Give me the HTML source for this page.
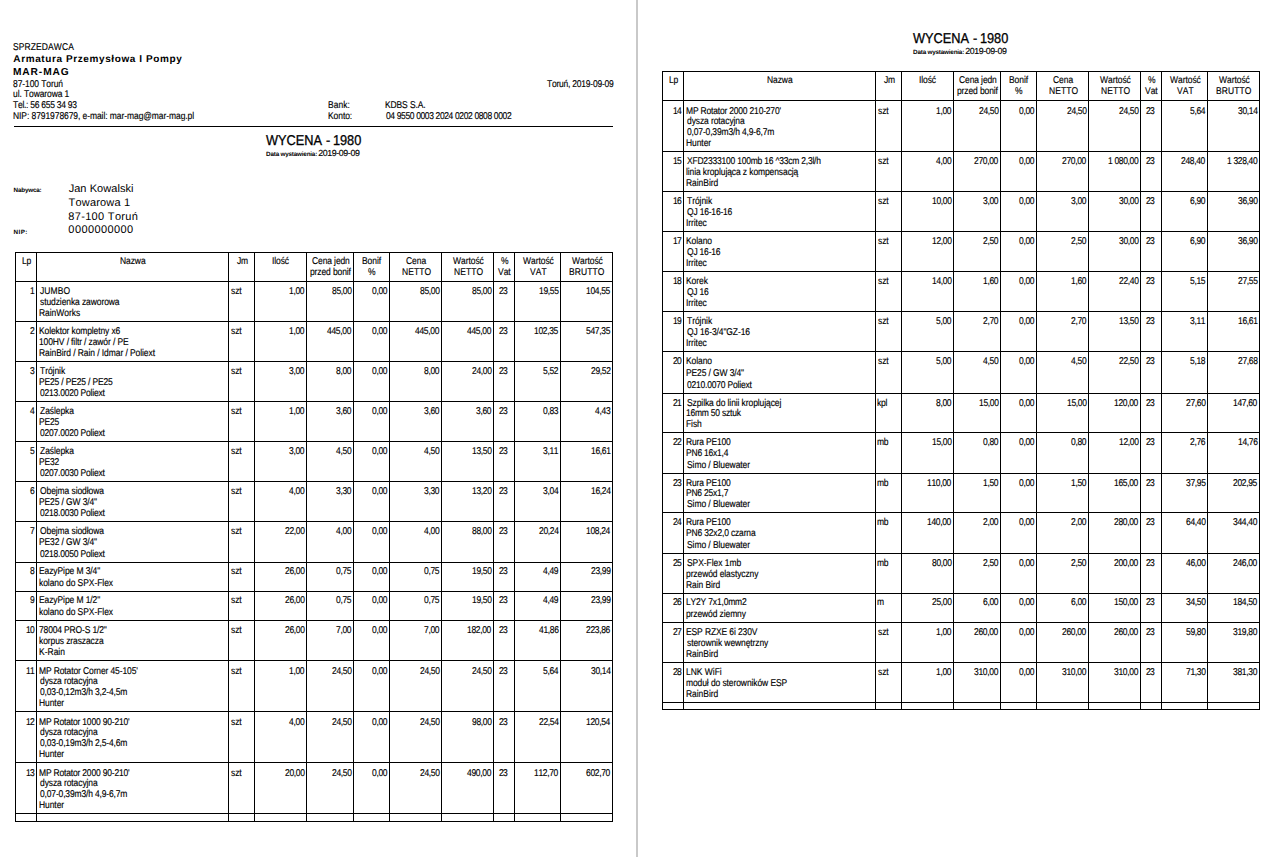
<!DOCTYPE html><html><head><meta charset="utf-8"><style>
html,body{margin:0;padding:0;background:#fff;width:1279px;height:857px;overflow:hidden;position:relative}
.t{position:absolute;white-space:pre;transform-origin:0 0;font-family:"Liberation Sans",sans-serif;font-kerning:none;text-rendering:geometricPrecision;line-height:20px;height:20px;color:#000}
.l{position:absolute;background:#000}
</style></head><body>
<div class="l" style="left:636px;top:0px;width:2px;height:857px;background:#c9c9c9;"></div>
<div class="l" style="left:14px;top:126px;width:599px;height:1px;"></div>
<div class="l" style="left:15px;top:252px;width:598px;height:1px;"></div>
<div class="l" style="left:15px;top:281px;width:598px;height:1px;"></div>
<div class="l" style="left:15px;top:321px;width:598px;height:1px;"></div>
<div class="l" style="left:15px;top:361px;width:598px;height:1px;"></div>
<div class="l" style="left:15px;top:401px;width:598px;height:1px;"></div>
<div class="l" style="left:15px;top:441px;width:598px;height:1px;"></div>
<div class="l" style="left:15px;top:481px;width:598px;height:1px;"></div>
<div class="l" style="left:15px;top:521px;width:598px;height:1px;"></div>
<div class="l" style="left:15px;top:562px;width:598px;height:1px;"></div>
<div class="l" style="left:15px;top:591px;width:598px;height:1px;"></div>
<div class="l" style="left:15px;top:620px;width:598px;height:1px;"></div>
<div class="l" style="left:15px;top:660px;width:598px;height:1px;"></div>
<div class="l" style="left:15px;top:711px;width:598px;height:1px;"></div>
<div class="l" style="left:15px;top:762px;width:598px;height:1px;"></div>
<div class="l" style="left:15px;top:813px;width:598px;height:1px;"></div>
<div class="l" style="left:15px;top:821px;width:598px;height:1px;"></div>
<div class="l" style="left:15px;top:252px;width:1px;height:570px;"></div>
<div class="l" style="left:36px;top:252px;width:1px;height:570px;"></div>
<div class="l" style="left:228px;top:252px;width:1px;height:570px;"></div>
<div class="l" style="left:254px;top:252px;width:1px;height:570px;"></div>
<div class="l" style="left:306px;top:252px;width:1px;height:570px;"></div>
<div class="l" style="left:353px;top:252px;width:1px;height:570px;"></div>
<div class="l" style="left:389px;top:252px;width:1px;height:570px;"></div>
<div class="l" style="left:441px;top:252px;width:1px;height:570px;"></div>
<div class="l" style="left:493px;top:252px;width:1px;height:570px;"></div>
<div class="l" style="left:514px;top:252px;width:1px;height:570px;"></div>
<div class="l" style="left:560px;top:252px;width:1px;height:570px;"></div>
<div class="l" style="left:612px;top:252px;width:1px;height:570px;"></div>
<div class="l" style="left:662px;top:71px;width:598px;height:1px;"></div>
<div class="l" style="left:662px;top:100px;width:598px;height:1px;"></div>
<div class="l" style="left:662px;top:151px;width:598px;height:1px;"></div>
<div class="l" style="left:662px;top:191px;width:598px;height:1px;"></div>
<div class="l" style="left:662px;top:231px;width:598px;height:1px;"></div>
<div class="l" style="left:662px;top:271px;width:598px;height:1px;"></div>
<div class="l" style="left:662px;top:311px;width:598px;height:1px;"></div>
<div class="l" style="left:662px;top:351px;width:598px;height:1px;"></div>
<div class="l" style="left:662px;top:393px;width:598px;height:1px;"></div>
<div class="l" style="left:662px;top:432px;width:598px;height:1px;"></div>
<div class="l" style="left:662px;top:473px;width:598px;height:1px;"></div>
<div class="l" style="left:662px;top:512px;width:598px;height:1px;"></div>
<div class="l" style="left:662px;top:553px;width:598px;height:1px;"></div>
<div class="l" style="left:662px;top:593px;width:598px;height:1px;"></div>
<div class="l" style="left:662px;top:622px;width:598px;height:1px;"></div>
<div class="l" style="left:662px;top:662px;width:598px;height:1px;"></div>
<div class="l" style="left:662px;top:702px;width:598px;height:1px;"></div>
<div class="l" style="left:662px;top:709px;width:598px;height:1px;"></div>
<div class="l" style="left:662px;top:71px;width:1px;height:639px;"></div>
<div class="l" style="left:683px;top:71px;width:1px;height:639px;"></div>
<div class="l" style="left:875px;top:71px;width:1px;height:639px;"></div>
<div class="l" style="left:901px;top:71px;width:1px;height:639px;"></div>
<div class="l" style="left:953px;top:71px;width:1px;height:639px;"></div>
<div class="l" style="left:1000px;top:71px;width:1px;height:639px;"></div>
<div class="l" style="left:1036px;top:71px;width:1px;height:639px;"></div>
<div class="l" style="left:1088px;top:71px;width:1px;height:639px;"></div>
<div class="l" style="left:1140px;top:71px;width:1px;height:639px;"></div>
<div class="l" style="left:1161px;top:71px;width:1px;height:639px;"></div>
<div class="l" style="left:1207px;top:71px;width:1px;height:639px;"></div>
<div class="l" style="left:1259px;top:71px;width:1px;height:639px;"></div>
<div class="t" style="left:13.21px;top:38px;font-size:9.9px;letter-spacing:0.120px;-webkit-text-stroke:0.15px #000;transform:scaleX(0.86);">SPRZEDAWCA</div>
<div class="t" style="left:13.35px;top:50px;font-size:10.0px;letter-spacing:0.601px;font-weight:bold;">Armatura Przemysłowa I Pompy</div>
<div class="t" style="left:12.92px;top:63px;font-size:10.2px;letter-spacing:0.915px;font-weight:bold;">MAR-MAG</div>
<div class="t" style="left:13.23px;top:75px;font-size:9.9px;letter-spacing:-0.096px;-webkit-text-stroke:0.15px #000;transform:scaleX(0.86);">87-100 Toruń</div>
<div class="t" style="left:13.05px;top:85px;font-size:9.9px;letter-spacing:-0.113px;-webkit-text-stroke:0.15px #000;transform:scaleX(0.86);">ul. Towarowa 1</div>
<div class="t" style="left:13.41px;top:96px;font-size:9.9px;letter-spacing:-0.306px;-webkit-text-stroke:0.15px #000;transform:scaleX(0.86);">Tel.: 56 655 34 93</div>
<div class="t" style="left:12.90px;top:107px;font-size:9.9px;letter-spacing:-0.086px;-webkit-text-stroke:0.15px #000;transform:scaleX(0.86);">NIP: 8791978679, e-mail: mar-mag@mar-mag.pl</div>
<div class="t" style="left:547.31px;top:75px;font-size:9.9px;letter-spacing:-0.256px;-webkit-text-stroke:0.15px #000;transform:scaleX(0.86);">Toruń, 2019-09-09</div>
<div class="t" style="left:327.80px;top:96px;font-size:9.9px;letter-spacing:0.030px;-webkit-text-stroke:0.15px #000;transform:scaleX(0.86);">Bank:</div>
<div class="t" style="left:385.30px;top:96px;font-size:9.9px;letter-spacing:-0.140px;-webkit-text-stroke:0.15px #000;transform:scaleX(0.86);">KDBS S.A.</div>
<div class="t" style="left:327.80px;top:107px;font-size:9.9px;letter-spacing:-0.079px;-webkit-text-stroke:0.15px #000;transform:scaleX(0.86);">Konto:</div>
<div class="t" style="left:385.67px;top:107px;font-size:9.9px;letter-spacing:-0.426px;-webkit-text-stroke:0.15px #000;transform:scaleX(0.86);">04 9550 0003 2024 0202 0808 0002</div>
<div class="t" style="left:266.01px;top:131px;font-size:14.2px;letter-spacing:-0.025px;-webkit-text-stroke:0.3px #000;transform:scaleX(0.9);">WYCENA</div>
<div class="t" style="left:325.63px;top:131px;font-size:14.2px;letter-spacing:0.000px;-webkit-text-stroke:0.3px #000;transform:scaleX(0.9);">-</div>
<div class="t" style="left:333.03px;top:131px;font-size:14.2px;letter-spacing:-0.058px;-webkit-text-stroke:0.3px #000;transform:scaleX(0.9);">1980</div>
<div class="t" style="left:266.08px;top:145px;font-size:6.3px;letter-spacing:-0.190px;font-weight:bold;">Data wystawienia:</div>
<div class="t" style="left:318.16px;top:143px;font-size:8.8px;letter-spacing:-0.373px;-webkit-text-stroke:0.15px #000;">2019-09-09</div>
<div class="t" style="left:913.01px;top:29px;font-size:14.2px;letter-spacing:-0.025px;-webkit-text-stroke:0.3px #000;transform:scaleX(0.9);">WYCENA</div>
<div class="t" style="left:972.63px;top:29px;font-size:14.2px;letter-spacing:0.000px;-webkit-text-stroke:0.3px #000;transform:scaleX(0.9);">-</div>
<div class="t" style="left:980.03px;top:29px;font-size:14.2px;letter-spacing:-0.058px;-webkit-text-stroke:0.3px #000;transform:scaleX(0.9);">1980</div>
<div class="t" style="left:913.08px;top:43px;font-size:6.3px;letter-spacing:-0.190px;font-weight:bold;">Data wystawienia:</div>
<div class="t" style="left:965.16px;top:41px;font-size:8.8px;letter-spacing:-0.373px;-webkit-text-stroke:0.15px #000;">2019-09-09</div>
<div class="t" style="left:13.58px;top:181px;font-size:6.3px;letter-spacing:-0.198px;font-weight:bold;">Nabywca:</div>
<div class="t" style="left:13.58px;top:223px;font-size:6.3px;letter-spacing:0.409px;font-weight:bold;">NIP:</div>
<div class="t" style="left:68.63px;top:179px;font-size:11.0px;letter-spacing:0.065px;">Jan Kowalski</div>
<div class="t" style="left:68.55px;top:193px;font-size:11.0px;letter-spacing:0.186px;">Towarowa 1</div>
<div class="t" style="left:68.32px;top:207px;font-size:11.0px;letter-spacing:0.321px;">87-100 Toruń</div>
<div class="t" style="left:68.37px;top:220px;font-size:11.0px;letter-spacing:0.409px;">0000000000</div>
<div class="t" style="left:21.98px;top:252px;font-size:9.9px;letter-spacing:-0.198px;-webkit-text-stroke:0.15px #000;transform:scaleX(0.86);">Lp</div>
<div class="t" style="left:120.11px;top:252px;font-size:9.9px;letter-spacing:-0.097px;-webkit-text-stroke:0.15px #000;transform:scaleX(0.86);">Nazwa</div>
<div class="t" style="left:236.92px;top:252px;font-size:9.9px;letter-spacing:-0.183px;-webkit-text-stroke:0.15px #000;transform:scaleX(0.86);">Jm</div>
<div class="t" style="left:272.45px;top:252px;font-size:9.9px;letter-spacing:-0.108px;-webkit-text-stroke:0.15px #000;transform:scaleX(0.86);">Ilość</div>
<div class="t" style="left:311.90px;top:252px;font-size:9.9px;letter-spacing:-0.130px;-webkit-text-stroke:0.15px #000;transform:scaleX(0.86);">Cena jedn</div>
<div class="t" style="left:309.99px;top:263px;font-size:9.9px;letter-spacing:-0.125px;-webkit-text-stroke:0.15px #000;transform:scaleX(0.86);">przed bonif</div>
<div class="t" style="left:362.36px;top:252px;font-size:9.9px;letter-spacing:-0.070px;-webkit-text-stroke:0.15px #000;transform:scaleX(0.86);">Bonif</div>
<div class="t" style="left:368.30px;top:263px;font-size:9.9px;letter-spacing:0.000px;-webkit-text-stroke:0.15px #000;transform:scaleX(0.86);">%</div>
<div class="t" style="left:406.01px;top:252px;font-size:9.9px;letter-spacing:-0.077px;-webkit-text-stroke:0.15px #000;transform:scaleX(0.86);">Cena</div>
<div class="t" style="left:401.58px;top:263px;font-size:9.9px;letter-spacing:0.087px;-webkit-text-stroke:0.15px #000;transform:scaleX(0.86);">NETTO</div>
<div class="t" style="left:452.93px;top:252px;font-size:9.9px;letter-spacing:-0.055px;-webkit-text-stroke:0.15px #000;transform:scaleX(0.86);">Wartość</div>
<div class="t" style="left:453.58px;top:263px;font-size:9.9px;letter-spacing:0.087px;-webkit-text-stroke:0.15px #000;transform:scaleX(0.86);">NETTO</div>
<div class="t" style="left:500.80px;top:252px;font-size:9.9px;letter-spacing:0.000px;-webkit-text-stroke:0.15px #000;transform:scaleX(0.86);">%</div>
<div class="t" style="left:498.44px;top:263px;font-size:9.9px;letter-spacing:-0.022px;-webkit-text-stroke:0.15px #000;transform:scaleX(0.86);">Vat</div>
<div class="t" style="left:522.93px;top:252px;font-size:9.9px;letter-spacing:-0.055px;-webkit-text-stroke:0.15px #000;transform:scaleX(0.86);">Wartość</div>
<div class="t" style="left:529.98px;top:263px;font-size:9.9px;letter-spacing:0.137px;-webkit-text-stroke:0.15px #000;transform:scaleX(0.86);">VAT</div>
<div class="t" style="left:571.93px;top:252px;font-size:9.9px;letter-spacing:-0.055px;-webkit-text-stroke:0.15px #000;transform:scaleX(0.86);">Wartość</div>
<div class="t" style="left:569.45px;top:263px;font-size:9.9px;letter-spacing:0.093px;-webkit-text-stroke:0.15px #000;transform:scaleX(0.86);">BRUTTO</div>
<div class="t" style="left:30.39px;top:282px;font-size:9.9px;letter-spacing:0.000px;-webkit-text-stroke:0.15px #000;transform:scaleX(0.86);">1</div>
<div class="t" style="left:39.77px;top:282px;font-size:9.9px;letter-spacing:0.118px;-webkit-text-stroke:0.15px #000;transform:scaleX(0.86);">JUMBO</div>
<div class="t" style="left:39.66px;top:293px;font-size:9.9px;letter-spacing:-0.107px;-webkit-text-stroke:0.15px #000;transform:scaleX(0.86);">studzienka zaworowa</div>
<div class="t" style="left:39.20px;top:304px;font-size:9.9px;letter-spacing:-0.054px;-webkit-text-stroke:0.15px #000;transform:scaleX(0.86);">RainWorks</div>
<div class="t" style="left:230.76px;top:282px;font-size:9.9px;letter-spacing:-0.131px;-webkit-text-stroke:0.15px #000;transform:scaleX(0.86);">szt</div>
<div class="t" style="left:289.16px;top:282px;font-size:9.9px;letter-spacing:-0.386px;-webkit-text-stroke:0.15px #000;transform:scaleX(0.86);">1,00</div>
<div class="t" style="left:331.71px;top:282px;font-size:9.9px;letter-spacing:-0.374px;-webkit-text-stroke:0.15px #000;transform:scaleX(0.86);">85,00</div>
<div class="t" style="left:372.11px;top:282px;font-size:9.9px;letter-spacing:-0.366px;-webkit-text-stroke:0.15px #000;transform:scaleX(0.86);">0,00</div>
<div class="t" style="left:419.71px;top:282px;font-size:9.9px;letter-spacing:-0.374px;-webkit-text-stroke:0.15px #000;transform:scaleX(0.86);">85,00</div>
<div class="t" style="left:471.71px;top:282px;font-size:9.9px;letter-spacing:-0.374px;-webkit-text-stroke:0.15px #000;transform:scaleX(0.86);">85,00</div>
<div class="t" style="left:499.44px;top:282px;font-size:9.9px;letter-spacing:-0.930px;-webkit-text-stroke:0.15px #000;transform:scaleX(0.86);">23</div>
<div class="t" style="left:538.79px;top:282px;font-size:9.9px;letter-spacing:-0.388px;-webkit-text-stroke:0.15px #000;transform:scaleX(0.86);">19,55</div>
<div class="t" style="left:586.39px;top:282px;font-size:9.9px;letter-spacing:-0.388px;-webkit-text-stroke:0.15px #000;transform:scaleX(0.86);">104,55</div>
<div class="t" style="left:30.37px;top:322px;font-size:9.9px;letter-spacing:0.000px;-webkit-text-stroke:0.15px #000;transform:scaleX(0.86);">2</div>
<div class="t" style="left:39.20px;top:322px;font-size:9.9px;letter-spacing:-0.129px;-webkit-text-stroke:0.15px #000;transform:scaleX(0.86);">Kolektor kompletny x6</div>
<div class="t" style="left:39.25px;top:333px;font-size:9.9px;letter-spacing:-0.135px;-webkit-text-stroke:0.15px #000;transform:scaleX(0.86);">100HV / filtr / zawór / PE</div>
<div class="t" style="left:39.20px;top:344px;font-size:9.9px;letter-spacing:-0.088px;-webkit-text-stroke:0.15px #000;transform:scaleX(0.86);">RainBird / Rain / Idmar / Poliext</div>
<div class="t" style="left:230.76px;top:322px;font-size:9.9px;letter-spacing:-0.131px;-webkit-text-stroke:0.15px #000;transform:scaleX(0.86);">szt</div>
<div class="t" style="left:289.16px;top:322px;font-size:9.9px;letter-spacing:-0.386px;-webkit-text-stroke:0.15px #000;transform:scaleX(0.86);">1,00</div>
<div class="t" style="left:327.28px;top:322px;font-size:9.9px;letter-spacing:-0.370px;-webkit-text-stroke:0.15px #000;transform:scaleX(0.86);">445,00</div>
<div class="t" style="left:372.11px;top:322px;font-size:9.9px;letter-spacing:-0.366px;-webkit-text-stroke:0.15px #000;transform:scaleX(0.86);">0,00</div>
<div class="t" style="left:415.28px;top:322px;font-size:9.9px;letter-spacing:-0.370px;-webkit-text-stroke:0.15px #000;transform:scaleX(0.86);">445,00</div>
<div class="t" style="left:467.28px;top:322px;font-size:9.9px;letter-spacing:-0.370px;-webkit-text-stroke:0.15px #000;transform:scaleX(0.86);">445,00</div>
<div class="t" style="left:499.44px;top:322px;font-size:9.9px;letter-spacing:-0.930px;-webkit-text-stroke:0.15px #000;transform:scaleX(0.86);">23</div>
<div class="t" style="left:534.39px;top:322px;font-size:9.9px;letter-spacing:-0.388px;-webkit-text-stroke:0.15px #000;transform:scaleX(0.86);">102,35</div>
<div class="t" style="left:586.34px;top:322px;font-size:9.9px;letter-spacing:-0.377px;-webkit-text-stroke:0.15px #000;transform:scaleX(0.86);">547,35</div>
<div class="t" style="left:30.29px;top:362px;font-size:9.9px;letter-spacing:0.000px;-webkit-text-stroke:0.15px #000;transform:scaleX(0.86);">3</div>
<div class="t" style="left:39.71px;top:362px;font-size:9.9px;letter-spacing:-0.053px;-webkit-text-stroke:0.15px #000;transform:scaleX(0.86);">Trójnik</div>
<div class="t" style="left:39.20px;top:373px;font-size:9.9px;letter-spacing:-0.182px;-webkit-text-stroke:0.15px #000;transform:scaleX(0.86);">PE25 / PE25 / PE25</div>
<div class="t" style="left:39.57px;top:384px;font-size:9.9px;letter-spacing:-0.229px;-webkit-text-stroke:0.15px #000;transform:scaleX(0.86);">0213.0020 Poliext</div>
<div class="t" style="left:230.76px;top:362px;font-size:9.9px;letter-spacing:-0.131px;-webkit-text-stroke:0.15px #000;transform:scaleX(0.86);">szt</div>
<div class="t" style="left:289.11px;top:362px;font-size:9.9px;letter-spacing:-0.366px;-webkit-text-stroke:0.15px #000;transform:scaleX(0.86);">3,00</div>
<div class="t" style="left:336.11px;top:362px;font-size:9.9px;letter-spacing:-0.369px;-webkit-text-stroke:0.15px #000;transform:scaleX(0.86);">8,00</div>
<div class="t" style="left:372.11px;top:362px;font-size:9.9px;letter-spacing:-0.366px;-webkit-text-stroke:0.15px #000;transform:scaleX(0.86);">0,00</div>
<div class="t" style="left:424.11px;top:362px;font-size:9.9px;letter-spacing:-0.369px;-webkit-text-stroke:0.15px #000;transform:scaleX(0.86);">8,00</div>
<div class="t" style="left:471.72px;top:362px;font-size:9.9px;letter-spacing:-0.377px;-webkit-text-stroke:0.15px #000;transform:scaleX(0.86);">24,00</div>
<div class="t" style="left:499.44px;top:362px;font-size:9.9px;letter-spacing:-0.930px;-webkit-text-stroke:0.15px #000;transform:scaleX(0.86);">23</div>
<div class="t" style="left:543.22px;top:362px;font-size:9.9px;letter-spacing:-0.373px;-webkit-text-stroke:0.15px #000;transform:scaleX(0.86);">5,52</div>
<div class="t" style="left:590.83px;top:362px;font-size:9.9px;letter-spacing:-0.381px;-webkit-text-stroke:0.15px #000;transform:scaleX(0.86);">29,52</div>
<div class="t" style="left:30.12px;top:402px;font-size:9.9px;letter-spacing:0.000px;-webkit-text-stroke:0.15px #000;transform:scaleX(0.86);">4</div>
<div class="t" style="left:39.63px;top:402px;font-size:9.9px;letter-spacing:-0.072px;-webkit-text-stroke:0.15px #000;transform:scaleX(0.86);">Zaślepka</div>
<div class="t" style="left:39.20px;top:413px;font-size:9.9px;letter-spacing:-0.253px;-webkit-text-stroke:0.15px #000;transform:scaleX(0.86);">PE25</div>
<div class="t" style="left:39.57px;top:424px;font-size:9.9px;letter-spacing:-0.229px;-webkit-text-stroke:0.15px #000;transform:scaleX(0.86);">0207.0020 Poliext</div>
<div class="t" style="left:230.76px;top:402px;font-size:9.9px;letter-spacing:-0.131px;-webkit-text-stroke:0.15px #000;transform:scaleX(0.86);">szt</div>
<div class="t" style="left:289.16px;top:402px;font-size:9.9px;letter-spacing:-0.386px;-webkit-text-stroke:0.15px #000;transform:scaleX(0.86);">1,00</div>
<div class="t" style="left:336.11px;top:402px;font-size:9.9px;letter-spacing:-0.366px;-webkit-text-stroke:0.15px #000;transform:scaleX(0.86);">3,60</div>
<div class="t" style="left:372.11px;top:402px;font-size:9.9px;letter-spacing:-0.366px;-webkit-text-stroke:0.15px #000;transform:scaleX(0.86);">0,00</div>
<div class="t" style="left:424.11px;top:402px;font-size:9.9px;letter-spacing:-0.366px;-webkit-text-stroke:0.15px #000;transform:scaleX(0.86);">3,60</div>
<div class="t" style="left:476.11px;top:402px;font-size:9.9px;letter-spacing:-0.366px;-webkit-text-stroke:0.15px #000;transform:scaleX(0.86);">3,60</div>
<div class="t" style="left:499.44px;top:402px;font-size:9.9px;letter-spacing:-0.930px;-webkit-text-stroke:0.15px #000;transform:scaleX(0.86);">23</div>
<div class="t" style="left:543.16px;top:402px;font-size:9.9px;letter-spacing:-0.369px;-webkit-text-stroke:0.15px #000;transform:scaleX(0.86);">0,83</div>
<div class="t" style="left:595.13px;top:402px;font-size:9.9px;letter-spacing:-0.360px;-webkit-text-stroke:0.15px #000;transform:scaleX(0.86);">4,43</div>
<div class="t" style="left:30.27px;top:442px;font-size:9.9px;letter-spacing:0.000px;-webkit-text-stroke:0.15px #000;transform:scaleX(0.86);">5</div>
<div class="t" style="left:39.63px;top:442px;font-size:9.9px;letter-spacing:-0.072px;-webkit-text-stroke:0.15px #000;transform:scaleX(0.86);">Zaślepka</div>
<div class="t" style="left:39.20px;top:453px;font-size:9.9px;letter-spacing:-0.258px;-webkit-text-stroke:0.15px #000;transform:scaleX(0.86);">PE32</div>
<div class="t" style="left:39.57px;top:464px;font-size:9.9px;letter-spacing:-0.229px;-webkit-text-stroke:0.15px #000;transform:scaleX(0.86);">0207.0030 Poliext</div>
<div class="t" style="left:230.76px;top:442px;font-size:9.9px;letter-spacing:-0.131px;-webkit-text-stroke:0.15px #000;transform:scaleX(0.86);">szt</div>
<div class="t" style="left:289.11px;top:442px;font-size:9.9px;letter-spacing:-0.366px;-webkit-text-stroke:0.15px #000;transform:scaleX(0.86);">3,00</div>
<div class="t" style="left:336.08px;top:442px;font-size:9.9px;letter-spacing:-0.358px;-webkit-text-stroke:0.15px #000;transform:scaleX(0.86);">4,50</div>
<div class="t" style="left:372.11px;top:442px;font-size:9.9px;letter-spacing:-0.366px;-webkit-text-stroke:0.15px #000;transform:scaleX(0.86);">0,00</div>
<div class="t" style="left:424.08px;top:442px;font-size:9.9px;letter-spacing:-0.358px;-webkit-text-stroke:0.15px #000;transform:scaleX(0.86);">4,50</div>
<div class="t" style="left:471.76px;top:442px;font-size:9.9px;letter-spacing:-0.387px;-webkit-text-stroke:0.15px #000;transform:scaleX(0.86);">13,50</div>
<div class="t" style="left:499.44px;top:442px;font-size:9.9px;letter-spacing:-0.930px;-webkit-text-stroke:0.15px #000;transform:scaleX(0.86);">23</div>
<div class="t" style="left:543.20px;top:442px;font-size:9.9px;letter-spacing:-0.371px;-webkit-text-stroke:0.15px #000;transform:scaleX(0.86);">3,11</div>
<div class="t" style="left:590.85px;top:442px;font-size:9.9px;letter-spacing:-0.391px;-webkit-text-stroke:0.15px #000;transform:scaleX(0.86);">16,61</div>
<div class="t" style="left:30.31px;top:482px;font-size:9.9px;letter-spacing:0.000px;-webkit-text-stroke:0.15px #000;transform:scaleX(0.86);">6</div>
<div class="t" style="left:39.50px;top:482px;font-size:9.9px;letter-spacing:-0.101px;-webkit-text-stroke:0.15px #000;transform:scaleX(0.86);">Obejma siodłowa</div>
<div class="t" style="left:39.20px;top:493px;font-size:9.9px;letter-spacing:-0.140px;-webkit-text-stroke:0.15px #000;transform:scaleX(0.86);">PE25 / GW 3/4&quot;</div>
<div class="t" style="left:39.57px;top:504px;font-size:9.9px;letter-spacing:-0.229px;-webkit-text-stroke:0.15px #000;transform:scaleX(0.86);">0218.0030 Poliext</div>
<div class="t" style="left:230.76px;top:482px;font-size:9.9px;letter-spacing:-0.131px;-webkit-text-stroke:0.15px #000;transform:scaleX(0.86);">szt</div>
<div class="t" style="left:289.08px;top:482px;font-size:9.9px;letter-spacing:-0.358px;-webkit-text-stroke:0.15px #000;transform:scaleX(0.86);">4,00</div>
<div class="t" style="left:336.11px;top:482px;font-size:9.9px;letter-spacing:-0.366px;-webkit-text-stroke:0.15px #000;transform:scaleX(0.86);">3,30</div>
<div class="t" style="left:372.11px;top:482px;font-size:9.9px;letter-spacing:-0.366px;-webkit-text-stroke:0.15px #000;transform:scaleX(0.86);">0,00</div>
<div class="t" style="left:424.11px;top:482px;font-size:9.9px;letter-spacing:-0.366px;-webkit-text-stroke:0.15px #000;transform:scaleX(0.86);">3,30</div>
<div class="t" style="left:471.76px;top:482px;font-size:9.9px;letter-spacing:-0.387px;-webkit-text-stroke:0.15px #000;transform:scaleX(0.86);">13,20</div>
<div class="t" style="left:499.44px;top:482px;font-size:9.9px;letter-spacing:-0.930px;-webkit-text-stroke:0.15px #000;transform:scaleX(0.86);">23</div>
<div class="t" style="left:543.01px;top:482px;font-size:9.9px;letter-spacing:-0.360px;-webkit-text-stroke:0.15px #000;transform:scaleX(0.86);">3,04</div>
<div class="t" style="left:590.66px;top:482px;font-size:9.9px;letter-spacing:-0.383px;-webkit-text-stroke:0.15px #000;transform:scaleX(0.86);">16,24</div>
<div class="t" style="left:30.37px;top:522px;font-size:9.9px;letter-spacing:0.000px;-webkit-text-stroke:0.15px #000;transform:scaleX(0.86);">7</div>
<div class="t" style="left:39.50px;top:522px;font-size:9.9px;letter-spacing:-0.101px;-webkit-text-stroke:0.15px #000;transform:scaleX(0.86);">Obejma siodłowa</div>
<div class="t" style="left:39.20px;top:533px;font-size:9.9px;letter-spacing:-0.140px;-webkit-text-stroke:0.15px #000;transform:scaleX(0.86);">PE32 / GW 3/4&quot;</div>
<div class="t" style="left:39.57px;top:545px;font-size:9.9px;letter-spacing:-0.229px;-webkit-text-stroke:0.15px #000;transform:scaleX(0.86);">0218.0050 Poliext</div>
<div class="t" style="left:230.76px;top:522px;font-size:9.9px;letter-spacing:-0.131px;-webkit-text-stroke:0.15px #000;transform:scaleX(0.86);">szt</div>
<div class="t" style="left:284.72px;top:522px;font-size:9.9px;letter-spacing:-0.377px;-webkit-text-stroke:0.15px #000;transform:scaleX(0.86);">22,00</div>
<div class="t" style="left:336.08px;top:522px;font-size:9.9px;letter-spacing:-0.358px;-webkit-text-stroke:0.15px #000;transform:scaleX(0.86);">4,00</div>
<div class="t" style="left:372.11px;top:522px;font-size:9.9px;letter-spacing:-0.366px;-webkit-text-stroke:0.15px #000;transform:scaleX(0.86);">0,00</div>
<div class="t" style="left:424.08px;top:522px;font-size:9.9px;letter-spacing:-0.358px;-webkit-text-stroke:0.15px #000;transform:scaleX(0.86);">4,00</div>
<div class="t" style="left:471.71px;top:522px;font-size:9.9px;letter-spacing:-0.374px;-webkit-text-stroke:0.15px #000;transform:scaleX(0.86);">88,00</div>
<div class="t" style="left:499.44px;top:522px;font-size:9.9px;letter-spacing:-0.930px;-webkit-text-stroke:0.15px #000;transform:scaleX(0.86);">23</div>
<div class="t" style="left:538.63px;top:522px;font-size:9.9px;letter-spacing:-0.373px;-webkit-text-stroke:0.15px #000;transform:scaleX(0.86);">20,24</div>
<div class="t" style="left:586.26px;top:522px;font-size:9.9px;letter-spacing:-0.384px;-webkit-text-stroke:0.15px #000;transform:scaleX(0.86);">108,24</div>
<div class="t" style="left:30.29px;top:562px;font-size:9.9px;letter-spacing:0.000px;-webkit-text-stroke:0.15px #000;transform:scaleX(0.86);">8</div>
<div class="t" style="left:39.20px;top:562px;font-size:9.9px;letter-spacing:-0.103px;-webkit-text-stroke:0.15px #000;transform:scaleX(0.86);">EazyPipe M 3/4&quot;</div>
<div class="t" style="left:39.33px;top:574px;font-size:9.9px;letter-spacing:-0.066px;-webkit-text-stroke:0.15px #000;transform:scaleX(0.86);">kolano do SPX-Flex</div>
<div class="t" style="left:230.76px;top:562px;font-size:9.9px;letter-spacing:-0.131px;-webkit-text-stroke:0.15px #000;transform:scaleX(0.86);">szt</div>
<div class="t" style="left:284.72px;top:562px;font-size:9.9px;letter-spacing:-0.377px;-webkit-text-stroke:0.15px #000;transform:scaleX(0.86);">26,00</div>
<div class="t" style="left:336.14px;top:562px;font-size:9.9px;letter-spacing:-0.368px;-webkit-text-stroke:0.15px #000;transform:scaleX(0.86);">0,75</div>
<div class="t" style="left:372.11px;top:562px;font-size:9.9px;letter-spacing:-0.366px;-webkit-text-stroke:0.15px #000;transform:scaleX(0.86);">0,00</div>
<div class="t" style="left:424.14px;top:562px;font-size:9.9px;letter-spacing:-0.368px;-webkit-text-stroke:0.15px #000;transform:scaleX(0.86);">0,75</div>
<div class="t" style="left:471.76px;top:562px;font-size:9.9px;letter-spacing:-0.387px;-webkit-text-stroke:0.15px #000;transform:scaleX(0.86);">19,50</div>
<div class="t" style="left:499.44px;top:562px;font-size:9.9px;letter-spacing:-0.930px;-webkit-text-stroke:0.15px #000;transform:scaleX(0.86);">23</div>
<div class="t" style="left:543.17px;top:562px;font-size:9.9px;letter-spacing:-0.362px;-webkit-text-stroke:0.15px #000;transform:scaleX(0.86);">4,49</div>
<div class="t" style="left:590.80px;top:562px;font-size:9.9px;letter-spacing:-0.380px;-webkit-text-stroke:0.15px #000;transform:scaleX(0.86);">23,99</div>
<div class="t" style="left:30.33px;top:591px;font-size:9.9px;letter-spacing:0.000px;-webkit-text-stroke:0.15px #000;transform:scaleX(0.86);">9</div>
<div class="t" style="left:39.20px;top:591px;font-size:9.9px;letter-spacing:-0.103px;-webkit-text-stroke:0.15px #000;transform:scaleX(0.86);">EazyPipe M 1/2&quot;</div>
<div class="t" style="left:39.33px;top:603px;font-size:9.9px;letter-spacing:-0.066px;-webkit-text-stroke:0.15px #000;transform:scaleX(0.86);">kolano do SPX-Flex</div>
<div class="t" style="left:230.76px;top:591px;font-size:9.9px;letter-spacing:-0.131px;-webkit-text-stroke:0.15px #000;transform:scaleX(0.86);">szt</div>
<div class="t" style="left:284.72px;top:591px;font-size:9.9px;letter-spacing:-0.377px;-webkit-text-stroke:0.15px #000;transform:scaleX(0.86);">26,00</div>
<div class="t" style="left:336.14px;top:591px;font-size:9.9px;letter-spacing:-0.368px;-webkit-text-stroke:0.15px #000;transform:scaleX(0.86);">0,75</div>
<div class="t" style="left:372.11px;top:591px;font-size:9.9px;letter-spacing:-0.366px;-webkit-text-stroke:0.15px #000;transform:scaleX(0.86);">0,00</div>
<div class="t" style="left:424.14px;top:591px;font-size:9.9px;letter-spacing:-0.368px;-webkit-text-stroke:0.15px #000;transform:scaleX(0.86);">0,75</div>
<div class="t" style="left:471.76px;top:591px;font-size:9.9px;letter-spacing:-0.387px;-webkit-text-stroke:0.15px #000;transform:scaleX(0.86);">19,50</div>
<div class="t" style="left:499.44px;top:591px;font-size:9.9px;letter-spacing:-0.930px;-webkit-text-stroke:0.15px #000;transform:scaleX(0.86);">23</div>
<div class="t" style="left:543.17px;top:591px;font-size:9.9px;letter-spacing:-0.362px;-webkit-text-stroke:0.15px #000;transform:scaleX(0.86);">4,49</div>
<div class="t" style="left:590.80px;top:591px;font-size:9.9px;letter-spacing:-0.380px;-webkit-text-stroke:0.15px #000;transform:scaleX(0.86);">23,99</div>
<div class="t" style="left:25.89px;top:621px;font-size:9.9px;letter-spacing:-0.964px;-webkit-text-stroke:0.15px #000;transform:scaleX(0.86);">10</div>
<div class="t" style="left:39.46px;top:621px;font-size:9.9px;letter-spacing:-0.169px;-webkit-text-stroke:0.15px #000;transform:scaleX(0.86);">78004 PRO-S 1/2&quot;</div>
<div class="t" style="left:39.33px;top:632px;font-size:9.9px;letter-spacing:-0.114px;-webkit-text-stroke:0.15px #000;transform:scaleX(0.86);">korpus zraszacza</div>
<div class="t" style="left:39.20px;top:643px;font-size:9.9px;letter-spacing:0.002px;-webkit-text-stroke:0.15px #000;transform:scaleX(0.86);">K-Rain</div>
<div class="t" style="left:230.76px;top:621px;font-size:9.9px;letter-spacing:-0.131px;-webkit-text-stroke:0.15px #000;transform:scaleX(0.86);">szt</div>
<div class="t" style="left:284.72px;top:621px;font-size:9.9px;letter-spacing:-0.377px;-webkit-text-stroke:0.15px #000;transform:scaleX(0.86);">26,00</div>
<div class="t" style="left:336.12px;top:621px;font-size:9.9px;letter-spacing:-0.373px;-webkit-text-stroke:0.15px #000;transform:scaleX(0.86);">7,00</div>
<div class="t" style="left:372.11px;top:621px;font-size:9.9px;letter-spacing:-0.366px;-webkit-text-stroke:0.15px #000;transform:scaleX(0.86);">0,00</div>
<div class="t" style="left:424.12px;top:621px;font-size:9.9px;letter-spacing:-0.373px;-webkit-text-stroke:0.15px #000;transform:scaleX(0.86);">7,00</div>
<div class="t" style="left:467.36px;top:621px;font-size:9.9px;letter-spacing:-0.387px;-webkit-text-stroke:0.15px #000;transform:scaleX(0.86);">182,00</div>
<div class="t" style="left:499.44px;top:621px;font-size:9.9px;letter-spacing:-0.930px;-webkit-text-stroke:0.15px #000;transform:scaleX(0.86);">23</div>
<div class="t" style="left:538.73px;top:621px;font-size:9.9px;letter-spacing:-0.367px;-webkit-text-stroke:0.15px #000;transform:scaleX(0.86);">41,86</div>
<div class="t" style="left:586.37px;top:621px;font-size:9.9px;letter-spacing:-0.381px;-webkit-text-stroke:0.15px #000;transform:scaleX(0.86);">223,86</div>
<div class="t" style="left:25.99px;top:662px;font-size:9.9px;letter-spacing:-0.980px;-webkit-text-stroke:0.15px #000;transform:scaleX(0.86);">11</div>
<div class="t" style="left:39.20px;top:662px;font-size:9.9px;letter-spacing:-0.137px;-webkit-text-stroke:0.15px #000;transform:scaleX(0.86);">MP Rotator Corner 45-105&#x27;</div>
<div class="t" style="left:39.54px;top:672px;font-size:9.9px;letter-spacing:-0.110px;-webkit-text-stroke:0.15px #000;transform:scaleX(0.86);">dysza rotacyjna</div>
<div class="t" style="left:39.57px;top:683px;font-size:9.9px;letter-spacing:-0.179px;-webkit-text-stroke:0.15px #000;transform:scaleX(0.86);">0,03-0,12m3/h 3,2-4,5m</div>
<div class="t" style="left:39.20px;top:694px;font-size:9.9px;letter-spacing:-0.081px;-webkit-text-stroke:0.15px #000;transform:scaleX(0.86);">Hunter</div>
<div class="t" style="left:230.76px;top:662px;font-size:9.9px;letter-spacing:-0.131px;-webkit-text-stroke:0.15px #000;transform:scaleX(0.86);">szt</div>
<div class="t" style="left:289.16px;top:662px;font-size:9.9px;letter-spacing:-0.386px;-webkit-text-stroke:0.15px #000;transform:scaleX(0.86);">1,00</div>
<div class="t" style="left:331.72px;top:662px;font-size:9.9px;letter-spacing:-0.377px;-webkit-text-stroke:0.15px #000;transform:scaleX(0.86);">24,50</div>
<div class="t" style="left:372.11px;top:662px;font-size:9.9px;letter-spacing:-0.366px;-webkit-text-stroke:0.15px #000;transform:scaleX(0.86);">0,00</div>
<div class="t" style="left:419.72px;top:662px;font-size:9.9px;letter-spacing:-0.377px;-webkit-text-stroke:0.15px #000;transform:scaleX(0.86);">24,50</div>
<div class="t" style="left:471.72px;top:662px;font-size:9.9px;letter-spacing:-0.377px;-webkit-text-stroke:0.15px #000;transform:scaleX(0.86);">24,50</div>
<div class="t" style="left:499.44px;top:662px;font-size:9.9px;letter-spacing:-0.930px;-webkit-text-stroke:0.15px #000;transform:scaleX(0.86);">23</div>
<div class="t" style="left:543.01px;top:662px;font-size:9.9px;letter-spacing:-0.362px;-webkit-text-stroke:0.15px #000;transform:scaleX(0.86);">5,64</div>
<div class="t" style="left:590.61px;top:662px;font-size:9.9px;letter-spacing:-0.368px;-webkit-text-stroke:0.15px #000;transform:scaleX(0.86);">30,14</div>
<div class="t" style="left:26.00px;top:713px;font-size:9.9px;letter-spacing:-0.982px;-webkit-text-stroke:0.15px #000;transform:scaleX(0.86);">12</div>
<div class="t" style="left:39.20px;top:713px;font-size:9.9px;letter-spacing:-0.209px;-webkit-text-stroke:0.15px #000;transform:scaleX(0.86);">MP Rotator 1000 90-210&#x27;</div>
<div class="t" style="left:39.54px;top:723px;font-size:9.9px;letter-spacing:-0.110px;-webkit-text-stroke:0.15px #000;transform:scaleX(0.86);">dysza rotacyjna</div>
<div class="t" style="left:39.57px;top:734px;font-size:9.9px;letter-spacing:-0.179px;-webkit-text-stroke:0.15px #000;transform:scaleX(0.86);">0,03-0,19m3/h 2,5-4,6m</div>
<div class="t" style="left:39.20px;top:745px;font-size:9.9px;letter-spacing:-0.081px;-webkit-text-stroke:0.15px #000;transform:scaleX(0.86);">Hunter</div>
<div class="t" style="left:230.76px;top:713px;font-size:9.9px;letter-spacing:-0.131px;-webkit-text-stroke:0.15px #000;transform:scaleX(0.86);">szt</div>
<div class="t" style="left:289.08px;top:713px;font-size:9.9px;letter-spacing:-0.358px;-webkit-text-stroke:0.15px #000;transform:scaleX(0.86);">4,00</div>
<div class="t" style="left:331.72px;top:713px;font-size:9.9px;letter-spacing:-0.377px;-webkit-text-stroke:0.15px #000;transform:scaleX(0.86);">24,50</div>
<div class="t" style="left:372.11px;top:713px;font-size:9.9px;letter-spacing:-0.366px;-webkit-text-stroke:0.15px #000;transform:scaleX(0.86);">0,00</div>
<div class="t" style="left:419.72px;top:713px;font-size:9.9px;letter-spacing:-0.377px;-webkit-text-stroke:0.15px #000;transform:scaleX(0.86);">24,50</div>
<div class="t" style="left:471.72px;top:713px;font-size:9.9px;letter-spacing:-0.375px;-webkit-text-stroke:0.15px #000;transform:scaleX(0.86);">98,00</div>
<div class="t" style="left:499.44px;top:713px;font-size:9.9px;letter-spacing:-0.930px;-webkit-text-stroke:0.15px #000;transform:scaleX(0.86);">23</div>
<div class="t" style="left:538.63px;top:713px;font-size:9.9px;letter-spacing:-0.373px;-webkit-text-stroke:0.15px #000;transform:scaleX(0.86);">22,54</div>
<div class="t" style="left:586.26px;top:713px;font-size:9.9px;letter-spacing:-0.384px;-webkit-text-stroke:0.15px #000;transform:scaleX(0.86);">120,54</div>
<div class="t" style="left:25.94px;top:764px;font-size:9.9px;letter-spacing:-0.972px;-webkit-text-stroke:0.15px #000;transform:scaleX(0.86);">13</div>
<div class="t" style="left:39.20px;top:764px;font-size:9.9px;letter-spacing:-0.209px;-webkit-text-stroke:0.15px #000;transform:scaleX(0.86);">MP Rotator 2000 90-210&#x27;</div>
<div class="t" style="left:39.54px;top:774px;font-size:9.9px;letter-spacing:-0.110px;-webkit-text-stroke:0.15px #000;transform:scaleX(0.86);">dysza rotacyjna</div>
<div class="t" style="left:39.57px;top:785px;font-size:9.9px;letter-spacing:-0.179px;-webkit-text-stroke:0.15px #000;transform:scaleX(0.86);">0,07-0,39m3/h 4,9-6,7m</div>
<div class="t" style="left:39.20px;top:796px;font-size:9.9px;letter-spacing:-0.081px;-webkit-text-stroke:0.15px #000;transform:scaleX(0.86);">Hunter</div>
<div class="t" style="left:230.76px;top:764px;font-size:9.9px;letter-spacing:-0.131px;-webkit-text-stroke:0.15px #000;transform:scaleX(0.86);">szt</div>
<div class="t" style="left:284.72px;top:764px;font-size:9.9px;letter-spacing:-0.377px;-webkit-text-stroke:0.15px #000;transform:scaleX(0.86);">20,00</div>
<div class="t" style="left:331.72px;top:764px;font-size:9.9px;letter-spacing:-0.377px;-webkit-text-stroke:0.15px #000;transform:scaleX(0.86);">24,50</div>
<div class="t" style="left:372.11px;top:764px;font-size:9.9px;letter-spacing:-0.366px;-webkit-text-stroke:0.15px #000;transform:scaleX(0.86);">0,00</div>
<div class="t" style="left:419.72px;top:764px;font-size:9.9px;letter-spacing:-0.377px;-webkit-text-stroke:0.15px #000;transform:scaleX(0.86);">24,50</div>
<div class="t" style="left:467.28px;top:764px;font-size:9.9px;letter-spacing:-0.370px;-webkit-text-stroke:0.15px #000;transform:scaleX(0.86);">490,00</div>
<div class="t" style="left:499.44px;top:764px;font-size:9.9px;letter-spacing:-0.930px;-webkit-text-stroke:0.15px #000;transform:scaleX(0.86);">23</div>
<div class="t" style="left:534.36px;top:764px;font-size:9.9px;letter-spacing:-0.387px;-webkit-text-stroke:0.15px #000;transform:scaleX(0.86);">112,70</div>
<div class="t" style="left:586.32px;top:764px;font-size:9.9px;letter-spacing:-0.379px;-webkit-text-stroke:0.15px #000;transform:scaleX(0.86);">602,70</div>
<div class="t" style="left:668.98px;top:71px;font-size:9.9px;letter-spacing:-0.198px;-webkit-text-stroke:0.15px #000;transform:scaleX(0.86);">Lp</div>
<div class="t" style="left:767.11px;top:71px;font-size:9.9px;letter-spacing:-0.097px;-webkit-text-stroke:0.15px #000;transform:scaleX(0.86);">Nazwa</div>
<div class="t" style="left:883.92px;top:71px;font-size:9.9px;letter-spacing:-0.183px;-webkit-text-stroke:0.15px #000;transform:scaleX(0.86);">Jm</div>
<div class="t" style="left:919.45px;top:71px;font-size:9.9px;letter-spacing:-0.108px;-webkit-text-stroke:0.15px #000;transform:scaleX(0.86);">Ilość</div>
<div class="t" style="left:958.90px;top:71px;font-size:9.9px;letter-spacing:-0.130px;-webkit-text-stroke:0.15px #000;transform:scaleX(0.86);">Cena jedn</div>
<div class="t" style="left:956.99px;top:82px;font-size:9.9px;letter-spacing:-0.125px;-webkit-text-stroke:0.15px #000;transform:scaleX(0.86);">przed bonif</div>
<div class="t" style="left:1009.36px;top:71px;font-size:9.9px;letter-spacing:-0.070px;-webkit-text-stroke:0.15px #000;transform:scaleX(0.86);">Bonif</div>
<div class="t" style="left:1015.30px;top:82px;font-size:9.9px;letter-spacing:0.000px;-webkit-text-stroke:0.15px #000;transform:scaleX(0.86);">%</div>
<div class="t" style="left:1053.01px;top:71px;font-size:9.9px;letter-spacing:-0.077px;-webkit-text-stroke:0.15px #000;transform:scaleX(0.86);">Cena</div>
<div class="t" style="left:1048.58px;top:82px;font-size:9.9px;letter-spacing:0.087px;-webkit-text-stroke:0.15px #000;transform:scaleX(0.86);">NETTO</div>
<div class="t" style="left:1099.93px;top:71px;font-size:9.9px;letter-spacing:-0.055px;-webkit-text-stroke:0.15px #000;transform:scaleX(0.86);">Wartość</div>
<div class="t" style="left:1100.58px;top:82px;font-size:9.9px;letter-spacing:0.087px;-webkit-text-stroke:0.15px #000;transform:scaleX(0.86);">NETTO</div>
<div class="t" style="left:1147.80px;top:71px;font-size:9.9px;letter-spacing:0.000px;-webkit-text-stroke:0.15px #000;transform:scaleX(0.86);">%</div>
<div class="t" style="left:1145.44px;top:82px;font-size:9.9px;letter-spacing:-0.022px;-webkit-text-stroke:0.15px #000;transform:scaleX(0.86);">Vat</div>
<div class="t" style="left:1169.93px;top:71px;font-size:9.9px;letter-spacing:-0.055px;-webkit-text-stroke:0.15px #000;transform:scaleX(0.86);">Wartość</div>
<div class="t" style="left:1176.98px;top:82px;font-size:9.9px;letter-spacing:0.137px;-webkit-text-stroke:0.15px #000;transform:scaleX(0.86);">VAT</div>
<div class="t" style="left:1218.93px;top:71px;font-size:9.9px;letter-spacing:-0.055px;-webkit-text-stroke:0.15px #000;transform:scaleX(0.86);">Wartość</div>
<div class="t" style="left:1216.45px;top:82px;font-size:9.9px;letter-spacing:0.093px;-webkit-text-stroke:0.15px #000;transform:scaleX(0.86);">BRUTTO</div>
<div class="t" style="left:672.80px;top:102px;font-size:9.9px;letter-spacing:-0.949px;-webkit-text-stroke:0.15px #000;transform:scaleX(0.86);">14</div>
<div class="t" style="left:686.20px;top:102px;font-size:9.9px;letter-spacing:-0.217px;-webkit-text-stroke:0.15px #000;transform:scaleX(0.86);">MP Rotator 2000 210-270&#x27;</div>
<div class="t" style="left:686.54px;top:112px;font-size:9.9px;letter-spacing:-0.110px;-webkit-text-stroke:0.15px #000;transform:scaleX(0.86);">dysza rotacyjna</div>
<div class="t" style="left:686.57px;top:123px;font-size:9.9px;letter-spacing:-0.179px;-webkit-text-stroke:0.15px #000;transform:scaleX(0.86);">0,07-0,39m3/h 4,9-6,7m</div>
<div class="t" style="left:686.20px;top:134px;font-size:9.9px;letter-spacing:-0.081px;-webkit-text-stroke:0.15px #000;transform:scaleX(0.86);">Hunter</div>
<div class="t" style="left:877.76px;top:102px;font-size:9.9px;letter-spacing:-0.131px;-webkit-text-stroke:0.15px #000;transform:scaleX(0.86);">szt</div>
<div class="t" style="left:936.16px;top:102px;font-size:9.9px;letter-spacing:-0.386px;-webkit-text-stroke:0.15px #000;transform:scaleX(0.86);">1,00</div>
<div class="t" style="left:978.72px;top:102px;font-size:9.9px;letter-spacing:-0.377px;-webkit-text-stroke:0.15px #000;transform:scaleX(0.86);">24,50</div>
<div class="t" style="left:1019.11px;top:102px;font-size:9.9px;letter-spacing:-0.366px;-webkit-text-stroke:0.15px #000;transform:scaleX(0.86);">0,00</div>
<div class="t" style="left:1066.72px;top:102px;font-size:9.9px;letter-spacing:-0.377px;-webkit-text-stroke:0.15px #000;transform:scaleX(0.86);">24,50</div>
<div class="t" style="left:1118.72px;top:102px;font-size:9.9px;letter-spacing:-0.377px;-webkit-text-stroke:0.15px #000;transform:scaleX(0.86);">24,50</div>
<div class="t" style="left:1146.44px;top:102px;font-size:9.9px;letter-spacing:-0.930px;-webkit-text-stroke:0.15px #000;transform:scaleX(0.86);">23</div>
<div class="t" style="left:1190.01px;top:102px;font-size:9.9px;letter-spacing:-0.362px;-webkit-text-stroke:0.15px #000;transform:scaleX(0.86);">5,64</div>
<div class="t" style="left:1237.61px;top:102px;font-size:9.9px;letter-spacing:-0.368px;-webkit-text-stroke:0.15px #000;transform:scaleX(0.86);">30,14</div>
<div class="t" style="left:672.92px;top:152px;font-size:9.9px;letter-spacing:-0.969px;-webkit-text-stroke:0.15px #000;transform:scaleX(0.86);">15</div>
<div class="t" style="left:686.71px;top:152px;font-size:9.9px;letter-spacing:-0.241px;-webkit-text-stroke:0.15px #000;transform:scaleX(0.86);">XFD2333100 100mb 16 ^33cm 2,3l/h</div>
<div class="t" style="left:686.33px;top:163px;font-size:9.9px;letter-spacing:-0.116px;-webkit-text-stroke:0.15px #000;transform:scaleX(0.86);">linia kroplująca z kompensacją</div>
<div class="t" style="left:686.20px;top:174px;font-size:9.9px;letter-spacing:-0.057px;-webkit-text-stroke:0.15px #000;transform:scaleX(0.86);">RainBird</div>
<div class="t" style="left:877.76px;top:152px;font-size:9.9px;letter-spacing:-0.131px;-webkit-text-stroke:0.15px #000;transform:scaleX(0.86);">szt</div>
<div class="t" style="left:936.08px;top:152px;font-size:9.9px;letter-spacing:-0.358px;-webkit-text-stroke:0.15px #000;transform:scaleX(0.86);">4,00</div>
<div class="t" style="left:974.32px;top:152px;font-size:9.9px;letter-spacing:-0.379px;-webkit-text-stroke:0.15px #000;transform:scaleX(0.86);">270,00</div>
<div class="t" style="left:1019.11px;top:152px;font-size:9.9px;letter-spacing:-0.366px;-webkit-text-stroke:0.15px #000;transform:scaleX(0.86);">0,00</div>
<div class="t" style="left:1062.32px;top:152px;font-size:9.9px;letter-spacing:-0.379px;-webkit-text-stroke:0.15px #000;transform:scaleX(0.86);">270,00</div>
<div class="t" style="left:1107.94px;top:152px;font-size:9.9px;letter-spacing:-0.389px;-webkit-text-stroke:0.15px #000;transform:scaleX(0.86);">1 080,00</div>
<div class="t" style="left:1146.44px;top:152px;font-size:9.9px;letter-spacing:-0.930px;-webkit-text-stroke:0.15px #000;transform:scaleX(0.86);">23</div>
<div class="t" style="left:1181.32px;top:152px;font-size:9.9px;letter-spacing:-0.379px;-webkit-text-stroke:0.15px #000;transform:scaleX(0.86);">248,40</div>
<div class="t" style="left:1226.94px;top:152px;font-size:9.9px;letter-spacing:-0.389px;-webkit-text-stroke:0.15px #000;transform:scaleX(0.86);">1 328,40</div>
<div class="t" style="left:672.94px;top:192px;font-size:9.9px;letter-spacing:-0.972px;-webkit-text-stroke:0.15px #000;transform:scaleX(0.86);">16</div>
<div class="t" style="left:686.71px;top:192px;font-size:9.9px;letter-spacing:-0.053px;-webkit-text-stroke:0.15px #000;transform:scaleX(0.86);">Trójnik</div>
<div class="t" style="left:686.50px;top:203px;font-size:9.9px;letter-spacing:-0.221px;-webkit-text-stroke:0.15px #000;transform:scaleX(0.86);">QJ 16-16-16</div>
<div class="t" style="left:686.11px;top:214px;font-size:9.9px;letter-spacing:-0.084px;-webkit-text-stroke:0.15px #000;transform:scaleX(0.86);">Irritec</div>
<div class="t" style="left:877.76px;top:192px;font-size:9.9px;letter-spacing:-0.131px;-webkit-text-stroke:0.15px #000;transform:scaleX(0.86);">szt</div>
<div class="t" style="left:931.76px;top:192px;font-size:9.9px;letter-spacing:-0.387px;-webkit-text-stroke:0.15px #000;transform:scaleX(0.86);">10,00</div>
<div class="t" style="left:983.11px;top:192px;font-size:9.9px;letter-spacing:-0.366px;-webkit-text-stroke:0.15px #000;transform:scaleX(0.86);">3,00</div>
<div class="t" style="left:1019.11px;top:192px;font-size:9.9px;letter-spacing:-0.366px;-webkit-text-stroke:0.15px #000;transform:scaleX(0.86);">0,00</div>
<div class="t" style="left:1071.11px;top:192px;font-size:9.9px;letter-spacing:-0.366px;-webkit-text-stroke:0.15px #000;transform:scaleX(0.86);">3,00</div>
<div class="t" style="left:1118.71px;top:192px;font-size:9.9px;letter-spacing:-0.372px;-webkit-text-stroke:0.15px #000;transform:scaleX(0.86);">30,00</div>
<div class="t" style="left:1146.44px;top:192px;font-size:9.9px;letter-spacing:-0.930px;-webkit-text-stroke:0.15px #000;transform:scaleX(0.86);">23</div>
<div class="t" style="left:1190.12px;top:192px;font-size:9.9px;letter-spacing:-0.373px;-webkit-text-stroke:0.15px #000;transform:scaleX(0.86);">6,90</div>
<div class="t" style="left:1237.71px;top:192px;font-size:9.9px;letter-spacing:-0.372px;-webkit-text-stroke:0.15px #000;transform:scaleX(0.86);">36,90</div>
<div class="t" style="left:673.00px;top:232px;font-size:9.9px;letter-spacing:-0.982px;-webkit-text-stroke:0.15px #000;transform:scaleX(0.86);">17</div>
<div class="t" style="left:686.20px;top:232px;font-size:9.9px;letter-spacing:-0.097px;-webkit-text-stroke:0.15px #000;transform:scaleX(0.86);">Kolano</div>
<div class="t" style="left:686.50px;top:243px;font-size:9.9px;letter-spacing:-0.237px;-webkit-text-stroke:0.15px #000;transform:scaleX(0.86);">QJ 16-16</div>
<div class="t" style="left:686.11px;top:254px;font-size:9.9px;letter-spacing:-0.084px;-webkit-text-stroke:0.15px #000;transform:scaleX(0.86);">Irritec</div>
<div class="t" style="left:877.76px;top:232px;font-size:9.9px;letter-spacing:-0.131px;-webkit-text-stroke:0.15px #000;transform:scaleX(0.86);">szt</div>
<div class="t" style="left:931.76px;top:232px;font-size:9.9px;letter-spacing:-0.387px;-webkit-text-stroke:0.15px #000;transform:scaleX(0.86);">12,00</div>
<div class="t" style="left:983.12px;top:232px;font-size:9.9px;letter-spacing:-0.372px;-webkit-text-stroke:0.15px #000;transform:scaleX(0.86);">2,50</div>
<div class="t" style="left:1019.11px;top:232px;font-size:9.9px;letter-spacing:-0.366px;-webkit-text-stroke:0.15px #000;transform:scaleX(0.86);">0,00</div>
<div class="t" style="left:1071.12px;top:232px;font-size:9.9px;letter-spacing:-0.372px;-webkit-text-stroke:0.15px #000;transform:scaleX(0.86);">2,50</div>
<div class="t" style="left:1118.71px;top:232px;font-size:9.9px;letter-spacing:-0.372px;-webkit-text-stroke:0.15px #000;transform:scaleX(0.86);">30,00</div>
<div class="t" style="left:1146.44px;top:232px;font-size:9.9px;letter-spacing:-0.930px;-webkit-text-stroke:0.15px #000;transform:scaleX(0.86);">23</div>
<div class="t" style="left:1190.12px;top:232px;font-size:9.9px;letter-spacing:-0.373px;-webkit-text-stroke:0.15px #000;transform:scaleX(0.86);">6,90</div>
<div class="t" style="left:1237.71px;top:232px;font-size:9.9px;letter-spacing:-0.372px;-webkit-text-stroke:0.15px #000;transform:scaleX(0.86);">36,90</div>
<div class="t" style="left:672.94px;top:272px;font-size:9.9px;letter-spacing:-0.971px;-webkit-text-stroke:0.15px #000;transform:scaleX(0.86);">18</div>
<div class="t" style="left:686.20px;top:272px;font-size:9.9px;letter-spacing:-0.083px;-webkit-text-stroke:0.15px #000;transform:scaleX(0.86);">Korek</div>
<div class="t" style="left:686.50px;top:283px;font-size:9.9px;letter-spacing:-0.279px;-webkit-text-stroke:0.15px #000;transform:scaleX(0.86);">QJ 16</div>
<div class="t" style="left:686.11px;top:294px;font-size:9.9px;letter-spacing:-0.084px;-webkit-text-stroke:0.15px #000;transform:scaleX(0.86);">Irritec</div>
<div class="t" style="left:877.76px;top:272px;font-size:9.9px;letter-spacing:-0.131px;-webkit-text-stroke:0.15px #000;transform:scaleX(0.86);">szt</div>
<div class="t" style="left:931.76px;top:272px;font-size:9.9px;letter-spacing:-0.387px;-webkit-text-stroke:0.15px #000;transform:scaleX(0.86);">14,00</div>
<div class="t" style="left:983.16px;top:272px;font-size:9.9px;letter-spacing:-0.386px;-webkit-text-stroke:0.15px #000;transform:scaleX(0.86);">1,60</div>
<div class="t" style="left:1019.11px;top:272px;font-size:9.9px;letter-spacing:-0.366px;-webkit-text-stroke:0.15px #000;transform:scaleX(0.86);">0,00</div>
<div class="t" style="left:1071.16px;top:272px;font-size:9.9px;letter-spacing:-0.386px;-webkit-text-stroke:0.15px #000;transform:scaleX(0.86);">1,60</div>
<div class="t" style="left:1118.72px;top:272px;font-size:9.9px;letter-spacing:-0.377px;-webkit-text-stroke:0.15px #000;transform:scaleX(0.86);">22,40</div>
<div class="t" style="left:1146.44px;top:272px;font-size:9.9px;letter-spacing:-0.930px;-webkit-text-stroke:0.15px #000;transform:scaleX(0.86);">23</div>
<div class="t" style="left:1190.14px;top:272px;font-size:9.9px;letter-spacing:-0.368px;-webkit-text-stroke:0.15px #000;transform:scaleX(0.86);">5,15</div>
<div class="t" style="left:1237.75px;top:272px;font-size:9.9px;letter-spacing:-0.378px;-webkit-text-stroke:0.15px #000;transform:scaleX(0.86);">27,55</div>
<div class="t" style="left:672.97px;top:312px;font-size:9.9px;letter-spacing:-0.978px;-webkit-text-stroke:0.15px #000;transform:scaleX(0.86);">19</div>
<div class="t" style="left:686.71px;top:312px;font-size:9.9px;letter-spacing:-0.053px;-webkit-text-stroke:0.15px #000;transform:scaleX(0.86);">Trójnik</div>
<div class="t" style="left:686.50px;top:323px;font-size:9.9px;letter-spacing:-0.110px;-webkit-text-stroke:0.15px #000;transform:scaleX(0.86);">QJ 16-3/4&quot;GZ-16</div>
<div class="t" style="left:686.11px;top:334px;font-size:9.9px;letter-spacing:-0.084px;-webkit-text-stroke:0.15px #000;transform:scaleX(0.86);">Irritec</div>
<div class="t" style="left:877.76px;top:312px;font-size:9.9px;letter-spacing:-0.131px;-webkit-text-stroke:0.15px #000;transform:scaleX(0.86);">szt</div>
<div class="t" style="left:936.11px;top:312px;font-size:9.9px;letter-spacing:-0.367px;-webkit-text-stroke:0.15px #000;transform:scaleX(0.86);">5,00</div>
<div class="t" style="left:983.12px;top:312px;font-size:9.9px;letter-spacing:-0.372px;-webkit-text-stroke:0.15px #000;transform:scaleX(0.86);">2,70</div>
<div class="t" style="left:1019.11px;top:312px;font-size:9.9px;letter-spacing:-0.366px;-webkit-text-stroke:0.15px #000;transform:scaleX(0.86);">0,00</div>
<div class="t" style="left:1071.12px;top:312px;font-size:9.9px;letter-spacing:-0.372px;-webkit-text-stroke:0.15px #000;transform:scaleX(0.86);">2,70</div>
<div class="t" style="left:1118.76px;top:312px;font-size:9.9px;letter-spacing:-0.387px;-webkit-text-stroke:0.15px #000;transform:scaleX(0.86);">13,50</div>
<div class="t" style="left:1146.44px;top:312px;font-size:9.9px;letter-spacing:-0.930px;-webkit-text-stroke:0.15px #000;transform:scaleX(0.86);">23</div>
<div class="t" style="left:1190.20px;top:312px;font-size:9.9px;letter-spacing:-0.371px;-webkit-text-stroke:0.15px #000;transform:scaleX(0.86);">3,11</div>
<div class="t" style="left:1237.85px;top:312px;font-size:9.9px;letter-spacing:-0.391px;-webkit-text-stroke:0.15px #000;transform:scaleX(0.86);">16,61</div>
<div class="t" style="left:672.86px;top:352px;font-size:9.9px;letter-spacing:-0.923px;-webkit-text-stroke:0.15px #000;transform:scaleX(0.86);">20</div>
<div class="t" style="left:686.20px;top:352px;font-size:9.9px;letter-spacing:-0.097px;-webkit-text-stroke:0.15px #000;transform:scaleX(0.86);">Kolano</div>
<div class="t" style="left:686.20px;top:364px;font-size:9.9px;letter-spacing:-0.140px;-webkit-text-stroke:0.15px #000;transform:scaleX(0.86);">PE25 / GW 3/4&quot;</div>
<div class="t" style="left:686.57px;top:376px;font-size:9.9px;letter-spacing:-0.229px;-webkit-text-stroke:0.15px #000;transform:scaleX(0.86);">0210.0070 Poliext</div>
<div class="t" style="left:877.76px;top:352px;font-size:9.9px;letter-spacing:-0.131px;-webkit-text-stroke:0.15px #000;transform:scaleX(0.86);">szt</div>
<div class="t" style="left:936.11px;top:352px;font-size:9.9px;letter-spacing:-0.367px;-webkit-text-stroke:0.15px #000;transform:scaleX(0.86);">5,00</div>
<div class="t" style="left:983.08px;top:352px;font-size:9.9px;letter-spacing:-0.358px;-webkit-text-stroke:0.15px #000;transform:scaleX(0.86);">4,50</div>
<div class="t" style="left:1019.11px;top:352px;font-size:9.9px;letter-spacing:-0.366px;-webkit-text-stroke:0.15px #000;transform:scaleX(0.86);">0,00</div>
<div class="t" style="left:1071.08px;top:352px;font-size:9.9px;letter-spacing:-0.358px;-webkit-text-stroke:0.15px #000;transform:scaleX(0.86);">4,50</div>
<div class="t" style="left:1118.72px;top:352px;font-size:9.9px;letter-spacing:-0.377px;-webkit-text-stroke:0.15px #000;transform:scaleX(0.86);">22,50</div>
<div class="t" style="left:1146.44px;top:352px;font-size:9.9px;letter-spacing:-0.930px;-webkit-text-stroke:0.15px #000;transform:scaleX(0.86);">23</div>
<div class="t" style="left:1190.15px;top:352px;font-size:9.9px;letter-spacing:-0.369px;-webkit-text-stroke:0.15px #000;transform:scaleX(0.86);">5,18</div>
<div class="t" style="left:1237.77px;top:352px;font-size:9.9px;letter-spacing:-0.378px;-webkit-text-stroke:0.15px #000;transform:scaleX(0.86);">27,68</div>
<div class="t" style="left:672.95px;top:394px;font-size:9.9px;letter-spacing:-0.938px;-webkit-text-stroke:0.15px #000;transform:scaleX(0.86);">21</div>
<div class="t" style="left:686.51px;top:394px;font-size:9.9px;letter-spacing:-0.106px;-webkit-text-stroke:0.15px #000;transform:scaleX(0.86);">Szpilka do linii kroplującej</div>
<div class="t" style="left:686.25px;top:404px;font-size:9.9px;letter-spacing:-0.260px;-webkit-text-stroke:0.15px #000;transform:scaleX(0.86);">16mm 50 sztuk</div>
<div class="t" style="left:686.20px;top:415px;font-size:9.9px;letter-spacing:-0.114px;-webkit-text-stroke:0.15px #000;transform:scaleX(0.86);">Fish</div>
<div class="t" style="left:877.43px;top:394px;font-size:9.9px;letter-spacing:-0.211px;-webkit-text-stroke:0.15px #000;transform:scaleX(0.86);">kpl</div>
<div class="t" style="left:936.11px;top:394px;font-size:9.9px;letter-spacing:-0.369px;-webkit-text-stroke:0.15px #000;transform:scaleX(0.86);">8,00</div>
<div class="t" style="left:978.76px;top:394px;font-size:9.9px;letter-spacing:-0.387px;-webkit-text-stroke:0.15px #000;transform:scaleX(0.86);">15,00</div>
<div class="t" style="left:1019.11px;top:394px;font-size:9.9px;letter-spacing:-0.366px;-webkit-text-stroke:0.15px #000;transform:scaleX(0.86);">0,00</div>
<div class="t" style="left:1066.76px;top:394px;font-size:9.9px;letter-spacing:-0.387px;-webkit-text-stroke:0.15px #000;transform:scaleX(0.86);">15,00</div>
<div class="t" style="left:1114.36px;top:394px;font-size:9.9px;letter-spacing:-0.387px;-webkit-text-stroke:0.15px #000;transform:scaleX(0.86);">120,00</div>
<div class="t" style="left:1146.44px;top:394px;font-size:9.9px;letter-spacing:-0.930px;-webkit-text-stroke:0.15px #000;transform:scaleX(0.86);">23</div>
<div class="t" style="left:1185.72px;top:394px;font-size:9.9px;letter-spacing:-0.377px;-webkit-text-stroke:0.15px #000;transform:scaleX(0.86);">27,60</div>
<div class="t" style="left:1233.36px;top:394px;font-size:9.9px;letter-spacing:-0.387px;-webkit-text-stroke:0.15px #000;transform:scaleX(0.86);">147,60</div>
<div class="t" style="left:672.97px;top:433px;font-size:9.9px;letter-spacing:-0.941px;-webkit-text-stroke:0.15px #000;transform:scaleX(0.86);">22</div>
<div class="t" style="left:686.20px;top:433px;font-size:9.9px;letter-spacing:-0.184px;-webkit-text-stroke:0.15px #000;transform:scaleX(0.86);">Rura PE100</div>
<div class="t" style="left:686.20px;top:444px;font-size:9.9px;letter-spacing:-0.243px;-webkit-text-stroke:0.15px #000;transform:scaleX(0.86);">PN6 16x1,4</div>
<div class="t" style="left:686.51px;top:456px;font-size:9.9px;letter-spacing:-0.090px;-webkit-text-stroke:0.15px #000;transform:scaleX(0.86);">Simo / Bluewater</div>
<div class="t" style="left:877.43px;top:433px;font-size:9.9px;letter-spacing:-0.398px;-webkit-text-stroke:0.15px #000;transform:scaleX(0.86);">mb</div>
<div class="t" style="left:931.76px;top:433px;font-size:9.9px;letter-spacing:-0.387px;-webkit-text-stroke:0.15px #000;transform:scaleX(0.86);">15,00</div>
<div class="t" style="left:983.11px;top:433px;font-size:9.9px;letter-spacing:-0.366px;-webkit-text-stroke:0.15px #000;transform:scaleX(0.86);">0,80</div>
<div class="t" style="left:1019.11px;top:433px;font-size:9.9px;letter-spacing:-0.366px;-webkit-text-stroke:0.15px #000;transform:scaleX(0.86);">0,00</div>
<div class="t" style="left:1071.11px;top:433px;font-size:9.9px;letter-spacing:-0.366px;-webkit-text-stroke:0.15px #000;transform:scaleX(0.86);">0,80</div>
<div class="t" style="left:1118.76px;top:433px;font-size:9.9px;letter-spacing:-0.387px;-webkit-text-stroke:0.15px #000;transform:scaleX(0.86);">12,00</div>
<div class="t" style="left:1146.44px;top:433px;font-size:9.9px;letter-spacing:-0.930px;-webkit-text-stroke:0.15px #000;transform:scaleX(0.86);">23</div>
<div class="t" style="left:1190.17px;top:433px;font-size:9.9px;letter-spacing:-0.375px;-webkit-text-stroke:0.15px #000;transform:scaleX(0.86);">2,76</div>
<div class="t" style="left:1237.81px;top:433px;font-size:9.9px;letter-spacing:-0.389px;-webkit-text-stroke:0.15px #000;transform:scaleX(0.86);">14,76</div>
<div class="t" style="left:672.90px;top:474px;font-size:9.9px;letter-spacing:-0.930px;-webkit-text-stroke:0.15px #000;transform:scaleX(0.86);">23</div>
<div class="t" style="left:686.20px;top:474px;font-size:9.9px;letter-spacing:-0.184px;-webkit-text-stroke:0.15px #000;transform:scaleX(0.86);">Rura PE100</div>
<div class="t" style="left:686.20px;top:484px;font-size:9.9px;letter-spacing:-0.246px;-webkit-text-stroke:0.15px #000;transform:scaleX(0.86);">PN6 25x1,7</div>
<div class="t" style="left:686.51px;top:495px;font-size:9.9px;letter-spacing:-0.090px;-webkit-text-stroke:0.15px #000;transform:scaleX(0.86);">Simo / Bluewater</div>
<div class="t" style="left:877.43px;top:474px;font-size:9.9px;letter-spacing:-0.398px;-webkit-text-stroke:0.15px #000;transform:scaleX(0.86);">mb</div>
<div class="t" style="left:927.36px;top:474px;font-size:9.9px;letter-spacing:-0.387px;-webkit-text-stroke:0.15px #000;transform:scaleX(0.86);">110,00</div>
<div class="t" style="left:983.16px;top:474px;font-size:9.9px;letter-spacing:-0.386px;-webkit-text-stroke:0.15px #000;transform:scaleX(0.86);">1,50</div>
<div class="t" style="left:1019.11px;top:474px;font-size:9.9px;letter-spacing:-0.366px;-webkit-text-stroke:0.15px #000;transform:scaleX(0.86);">0,00</div>
<div class="t" style="left:1071.16px;top:474px;font-size:9.9px;letter-spacing:-0.386px;-webkit-text-stroke:0.15px #000;transform:scaleX(0.86);">1,50</div>
<div class="t" style="left:1114.36px;top:474px;font-size:9.9px;letter-spacing:-0.387px;-webkit-text-stroke:0.15px #000;transform:scaleX(0.86);">165,00</div>
<div class="t" style="left:1146.44px;top:474px;font-size:9.9px;letter-spacing:-0.930px;-webkit-text-stroke:0.15px #000;transform:scaleX(0.86);">23</div>
<div class="t" style="left:1185.73px;top:474px;font-size:9.9px;letter-spacing:-0.373px;-webkit-text-stroke:0.15px #000;transform:scaleX(0.86);">37,95</div>
<div class="t" style="left:1233.35px;top:474px;font-size:9.9px;letter-spacing:-0.380px;-webkit-text-stroke:0.15px #000;transform:scaleX(0.86);">202,95</div>
<div class="t" style="left:672.76px;top:513px;font-size:9.9px;letter-spacing:-0.907px;-webkit-text-stroke:0.15px #000;transform:scaleX(0.86);">24</div>
<div class="t" style="left:686.20px;top:513px;font-size:9.9px;letter-spacing:-0.184px;-webkit-text-stroke:0.15px #000;transform:scaleX(0.86);">Rura PE100</div>
<div class="t" style="left:686.20px;top:524px;font-size:9.9px;letter-spacing:-0.189px;-webkit-text-stroke:0.15px #000;transform:scaleX(0.86);">PN6 32x2,0 czarna</div>
<div class="t" style="left:686.51px;top:536px;font-size:9.9px;letter-spacing:-0.090px;-webkit-text-stroke:0.15px #000;transform:scaleX(0.86);">Simo / Bluewater</div>
<div class="t" style="left:877.43px;top:513px;font-size:9.9px;letter-spacing:-0.398px;-webkit-text-stroke:0.15px #000;transform:scaleX(0.86);">mb</div>
<div class="t" style="left:927.36px;top:513px;font-size:9.9px;letter-spacing:-0.387px;-webkit-text-stroke:0.15px #000;transform:scaleX(0.86);">140,00</div>
<div class="t" style="left:983.12px;top:513px;font-size:9.9px;letter-spacing:-0.372px;-webkit-text-stroke:0.15px #000;transform:scaleX(0.86);">2,00</div>
<div class="t" style="left:1019.11px;top:513px;font-size:9.9px;letter-spacing:-0.366px;-webkit-text-stroke:0.15px #000;transform:scaleX(0.86);">0,00</div>
<div class="t" style="left:1071.12px;top:513px;font-size:9.9px;letter-spacing:-0.372px;-webkit-text-stroke:0.15px #000;transform:scaleX(0.86);">2,00</div>
<div class="t" style="left:1114.32px;top:513px;font-size:9.9px;letter-spacing:-0.379px;-webkit-text-stroke:0.15px #000;transform:scaleX(0.86);">280,00</div>
<div class="t" style="left:1146.44px;top:513px;font-size:9.9px;letter-spacing:-0.930px;-webkit-text-stroke:0.15px #000;transform:scaleX(0.86);">23</div>
<div class="t" style="left:1185.72px;top:513px;font-size:9.9px;letter-spacing:-0.377px;-webkit-text-stroke:0.15px #000;transform:scaleX(0.86);">64,40</div>
<div class="t" style="left:1233.30px;top:513px;font-size:9.9px;letter-spacing:-0.375px;-webkit-text-stroke:0.15px #000;transform:scaleX(0.86);">344,40</div>
<div class="t" style="left:672.88px;top:554px;font-size:9.9px;letter-spacing:-0.927px;-webkit-text-stroke:0.15px #000;transform:scaleX(0.86);">25</div>
<div class="t" style="left:686.51px;top:554px;font-size:9.9px;letter-spacing:-0.063px;-webkit-text-stroke:0.15px #000;transform:scaleX(0.86);">SPX-Flex 1mb</div>
<div class="t" style="left:686.35px;top:565px;font-size:9.9px;letter-spacing:-0.110px;-webkit-text-stroke:0.15px #000;transform:scaleX(0.86);">przewód elastyczny</div>
<div class="t" style="left:686.20px;top:576px;font-size:9.9px;letter-spacing:-0.100px;-webkit-text-stroke:0.15px #000;transform:scaleX(0.86);">Rain Bird</div>
<div class="t" style="left:877.43px;top:554px;font-size:9.9px;letter-spacing:-0.398px;-webkit-text-stroke:0.15px #000;transform:scaleX(0.86);">mb</div>
<div class="t" style="left:931.71px;top:554px;font-size:9.9px;letter-spacing:-0.374px;-webkit-text-stroke:0.15px #000;transform:scaleX(0.86);">80,00</div>
<div class="t" style="left:983.12px;top:554px;font-size:9.9px;letter-spacing:-0.372px;-webkit-text-stroke:0.15px #000;transform:scaleX(0.86);">2,50</div>
<div class="t" style="left:1019.11px;top:554px;font-size:9.9px;letter-spacing:-0.366px;-webkit-text-stroke:0.15px #000;transform:scaleX(0.86);">0,00</div>
<div class="t" style="left:1071.12px;top:554px;font-size:9.9px;letter-spacing:-0.372px;-webkit-text-stroke:0.15px #000;transform:scaleX(0.86);">2,50</div>
<div class="t" style="left:1114.32px;top:554px;font-size:9.9px;letter-spacing:-0.379px;-webkit-text-stroke:0.15px #000;transform:scaleX(0.86);">200,00</div>
<div class="t" style="left:1146.44px;top:554px;font-size:9.9px;letter-spacing:-0.930px;-webkit-text-stroke:0.15px #000;transform:scaleX(0.86);">23</div>
<div class="t" style="left:1185.68px;top:554px;font-size:9.9px;letter-spacing:-0.366px;-webkit-text-stroke:0.15px #000;transform:scaleX(0.86);">46,00</div>
<div class="t" style="left:1233.32px;top:554px;font-size:9.9px;letter-spacing:-0.379px;-webkit-text-stroke:0.15px #000;transform:scaleX(0.86);">246,00</div>
<div class="t" style="left:672.90px;top:593px;font-size:9.9px;letter-spacing:-0.930px;-webkit-text-stroke:0.15px #000;transform:scaleX(0.86);">26</div>
<div class="t" style="left:686.20px;top:593px;font-size:9.9px;letter-spacing:-0.200px;-webkit-text-stroke:0.15px #000;transform:scaleX(0.86);">LY2Y 7x1,0mm2</div>
<div class="t" style="left:686.35px;top:605px;font-size:9.9px;letter-spacing:-0.125px;-webkit-text-stroke:0.15px #000;transform:scaleX(0.86);">przewód ziemny</div>
<div class="t" style="left:877.43px;top:593px;font-size:9.9px;letter-spacing:0.000px;-webkit-text-stroke:0.15px #000;transform:scaleX(0.86);">m</div>
<div class="t" style="left:931.72px;top:593px;font-size:9.9px;letter-spacing:-0.377px;-webkit-text-stroke:0.15px #000;transform:scaleX(0.86);">25,00</div>
<div class="t" style="left:983.12px;top:593px;font-size:9.9px;letter-spacing:-0.373px;-webkit-text-stroke:0.15px #000;transform:scaleX(0.86);">6,00</div>
<div class="t" style="left:1019.11px;top:593px;font-size:9.9px;letter-spacing:-0.366px;-webkit-text-stroke:0.15px #000;transform:scaleX(0.86);">0,00</div>
<div class="t" style="left:1071.12px;top:593px;font-size:9.9px;letter-spacing:-0.373px;-webkit-text-stroke:0.15px #000;transform:scaleX(0.86);">6,00</div>
<div class="t" style="left:1114.36px;top:593px;font-size:9.9px;letter-spacing:-0.387px;-webkit-text-stroke:0.15px #000;transform:scaleX(0.86);">150,00</div>
<div class="t" style="left:1146.44px;top:593px;font-size:9.9px;letter-spacing:-0.930px;-webkit-text-stroke:0.15px #000;transform:scaleX(0.86);">23</div>
<div class="t" style="left:1185.71px;top:593px;font-size:9.9px;letter-spacing:-0.372px;-webkit-text-stroke:0.15px #000;transform:scaleX(0.86);">34,50</div>
<div class="t" style="left:1233.36px;top:593px;font-size:9.9px;letter-spacing:-0.387px;-webkit-text-stroke:0.15px #000;transform:scaleX(0.86);">184,50</div>
<div class="t" style="left:672.97px;top:623px;font-size:9.9px;letter-spacing:-0.941px;-webkit-text-stroke:0.15px #000;transform:scaleX(0.86);">27</div>
<div class="t" style="left:686.20px;top:623px;font-size:9.9px;letter-spacing:-0.137px;-webkit-text-stroke:0.15px #000;transform:scaleX(0.86);">ESP RZXE 6i 230V</div>
<div class="t" style="left:686.66px;top:634px;font-size:9.9px;letter-spacing:-0.104px;-webkit-text-stroke:0.15px #000;transform:scaleX(0.86);">sterownik wewnętrzny</div>
<div class="t" style="left:686.20px;top:645px;font-size:9.9px;letter-spacing:-0.057px;-webkit-text-stroke:0.15px #000;transform:scaleX(0.86);">RainBird</div>
<div class="t" style="left:877.76px;top:623px;font-size:9.9px;letter-spacing:-0.131px;-webkit-text-stroke:0.15px #000;transform:scaleX(0.86);">szt</div>
<div class="t" style="left:936.16px;top:623px;font-size:9.9px;letter-spacing:-0.386px;-webkit-text-stroke:0.15px #000;transform:scaleX(0.86);">1,00</div>
<div class="t" style="left:974.32px;top:623px;font-size:9.9px;letter-spacing:-0.379px;-webkit-text-stroke:0.15px #000;transform:scaleX(0.86);">260,00</div>
<div class="t" style="left:1019.11px;top:623px;font-size:9.9px;letter-spacing:-0.366px;-webkit-text-stroke:0.15px #000;transform:scaleX(0.86);">0,00</div>
<div class="t" style="left:1062.32px;top:623px;font-size:9.9px;letter-spacing:-0.379px;-webkit-text-stroke:0.15px #000;transform:scaleX(0.86);">260,00</div>
<div class="t" style="left:1114.32px;top:623px;font-size:9.9px;letter-spacing:-0.379px;-webkit-text-stroke:0.15px #000;transform:scaleX(0.86);">260,00</div>
<div class="t" style="left:1146.44px;top:623px;font-size:9.9px;letter-spacing:-0.930px;-webkit-text-stroke:0.15px #000;transform:scaleX(0.86);">23</div>
<div class="t" style="left:1185.71px;top:623px;font-size:9.9px;letter-spacing:-0.372px;-webkit-text-stroke:0.15px #000;transform:scaleX(0.86);">59,80</div>
<div class="t" style="left:1233.30px;top:623px;font-size:9.9px;letter-spacing:-0.375px;-webkit-text-stroke:0.15px #000;transform:scaleX(0.86);">319,80</div>
<div class="t" style="left:672.90px;top:663px;font-size:9.9px;letter-spacing:-0.930px;-webkit-text-stroke:0.15px #000;transform:scaleX(0.86);">28</div>
<div class="t" style="left:686.20px;top:663px;font-size:9.9px;letter-spacing:-0.020px;-webkit-text-stroke:0.15px #000;transform:scaleX(0.86);">LNK WiFi</div>
<div class="t" style="left:686.33px;top:674px;font-size:9.9px;letter-spacing:-0.111px;-webkit-text-stroke:0.15px #000;transform:scaleX(0.86);">moduł do sterowników ESP</div>
<div class="t" style="left:686.20px;top:685px;font-size:9.9px;letter-spacing:-0.057px;-webkit-text-stroke:0.15px #000;transform:scaleX(0.86);">RainBird</div>
<div class="t" style="left:877.76px;top:663px;font-size:9.9px;letter-spacing:-0.131px;-webkit-text-stroke:0.15px #000;transform:scaleX(0.86);">szt</div>
<div class="t" style="left:936.16px;top:663px;font-size:9.9px;letter-spacing:-0.386px;-webkit-text-stroke:0.15px #000;transform:scaleX(0.86);">1,00</div>
<div class="t" style="left:974.30px;top:663px;font-size:9.9px;letter-spacing:-0.375px;-webkit-text-stroke:0.15px #000;transform:scaleX(0.86);">310,00</div>
<div class="t" style="left:1019.11px;top:663px;font-size:9.9px;letter-spacing:-0.366px;-webkit-text-stroke:0.15px #000;transform:scaleX(0.86);">0,00</div>
<div class="t" style="left:1062.30px;top:663px;font-size:9.9px;letter-spacing:-0.375px;-webkit-text-stroke:0.15px #000;transform:scaleX(0.86);">310,00</div>
<div class="t" style="left:1114.30px;top:663px;font-size:9.9px;letter-spacing:-0.375px;-webkit-text-stroke:0.15px #000;transform:scaleX(0.86);">310,00</div>
<div class="t" style="left:1146.44px;top:663px;font-size:9.9px;letter-spacing:-0.930px;-webkit-text-stroke:0.15px #000;transform:scaleX(0.86);">23</div>
<div class="t" style="left:1185.72px;top:663px;font-size:9.9px;letter-spacing:-0.377px;-webkit-text-stroke:0.15px #000;transform:scaleX(0.86);">71,30</div>
<div class="t" style="left:1233.30px;top:663px;font-size:9.9px;letter-spacing:-0.375px;-webkit-text-stroke:0.15px #000;transform:scaleX(0.86);">381,30</div>
</body></html>
